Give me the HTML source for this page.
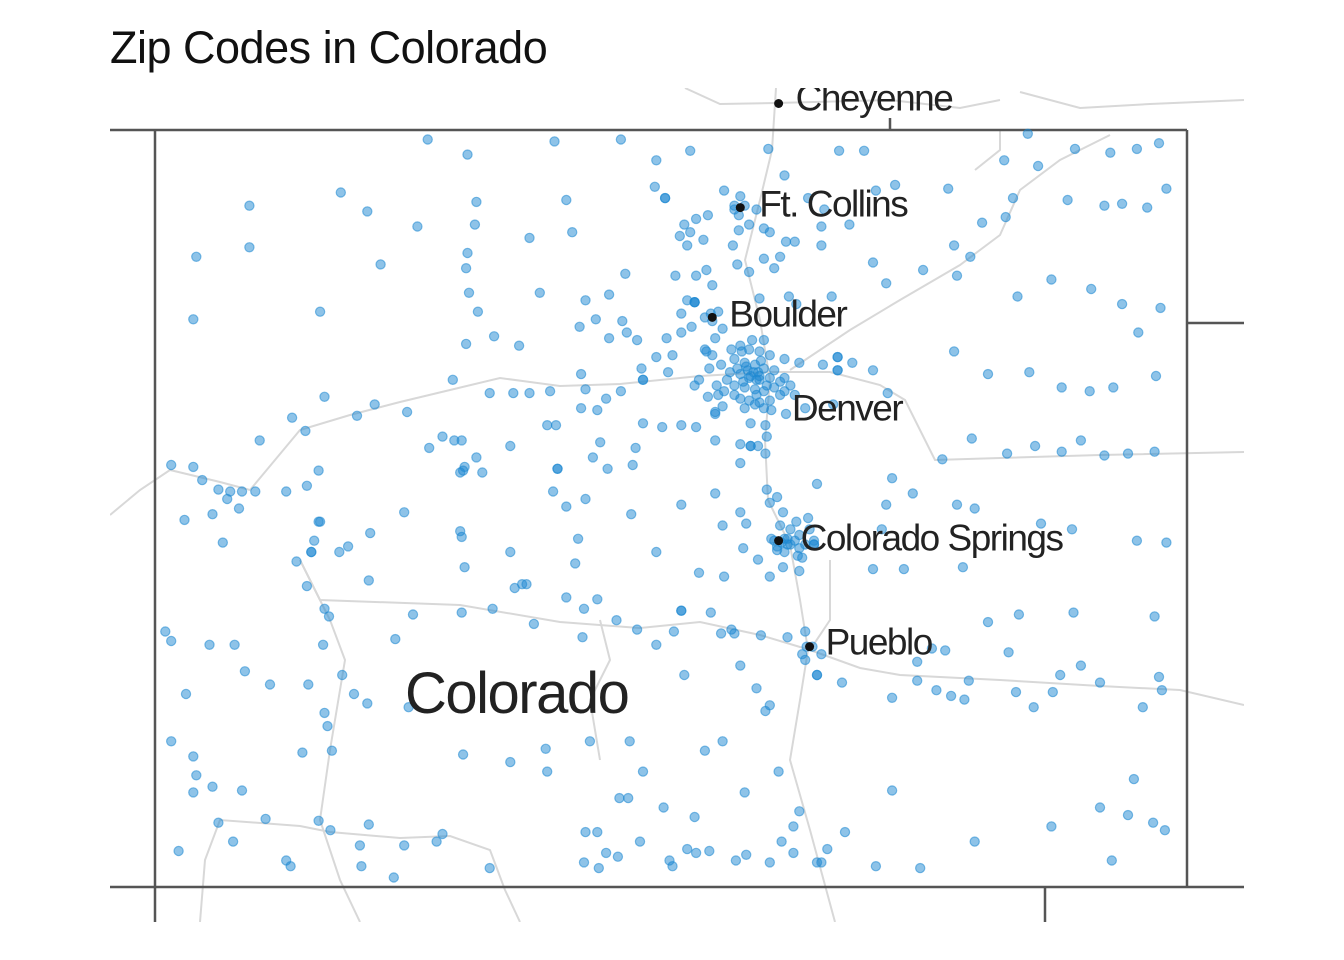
<!DOCTYPE html>
<html><head><meta charset="utf-8"><style>
html,body{margin:0;padding:0;background:#fff;width:1344px;height:960px;overflow:hidden}
#title{position:absolute;left:110px;top:22px;font-family:"Liberation Sans",sans-serif;font-size:45px;color:#111;letter-spacing:-0.5px}
svg{position:absolute;left:0;top:0}
</style></head><body>
<div id="title">Zip Codes in Colorado</div>
<svg id="map" width="1344" height="960">
<defs><clipPath id="clip"><rect x="110" y="88" width="1134" height="834"/></clipPath></defs>
<g id="base" clip-path="url(#clip)"></g>
<g id="pts" clip-path="url(#clip)"></g>
<g id="labels" clip-path="url(#clip)"></g>
</svg>
<script>
// data: zip code centroids [lon, lat]
const zipLon = [-107.20,-106.93,-106.34,-105.89,-105.65,-105.42,-104.89,-104.78,-104.41,-104.24,-103.29,-103.13,-103.06,-102.81,-102.57,-102.39,-102.24,-102.19,-102.32,-102.49,-102.61,-102.86,-103.23,-103.28,-103.44,-103.67,-104.03,-104.16,-104.34,-104.53,-104.51,-104.62,-104.53,-108.41,-107.79,-107.61,-107.27,-106.87,-106.88,-106.26,-106.22,-106.51,-106.93,-106.94,-106.92,-106.44,-106.13,-105.97,-105.86,-105.66,-105.59,-105.19,-105.08,-105.12,-104.97,-104.92,-104.88,-104.77,-104.71,-104.81,-104.92,-104.85,-105.02,-105.10,-105.13,-105.33,-105.42,-105.38,-105.46,-105.30,-105.49,-105.44,-105.31,-105.38,-105.52,-105.27,-105.44,-105.39,-104.95,-104.75,-104.70,-104.46,-104.18,-104.09,-103.84,-103.63,-103.52,-103.61,-103.20,-102.97,-102.70,-102.49,-102.23,-102.38,-108.77,-108.41,-107.52,-108.79,-107.93,-106.94,-106.75,-106.58,-106.86,-106.17,-106.06,-105.88,-105.85,-105.78,-105.97,-105.58,-105.65,-105.54,-105.48,-105.41,-105.48,-105.28,-105.20,-105.25,-105.31,-103.63,-103.40,-103.12,-102.90,-102.71,-102.55,-102.26,-104.32,-104.18,-104.42,-104.52,-104.42,-106.16,-106.13,-105.75,-105.74,-105.57,-105.39,-105.24,-105.30,-105.20,-105.25,-105.38,-105.48,-105.61,-105.74,-105.89,-105.99,-106.05,-106.16,-106.37,-106.51,-106.62,-106.78,-107.03,-107.34,-107.56,-107.68,-107.90,-108.12,-108.03,-108.34,-107.10,-107.02,-106.97,-107.19,-106.39,-106.33,-106.64,-106.03,-105.79,-105.81,-106.08,-105.98,-106.32,-106.95,-106.98,-106.83,-106.87,-107.94,-108.02,-108.16,-108.37,-108.46,-108.54,-108.62,-108.56,-108.73,-108.79,-108.94,-108.66,-108.48,-108.85,-108.59,-107.94,-107.36,-106.35,-106.26,-106.13,-105.82,-105.48,-105.25,-105.08,-105.04,-105.20,-105.08,-104.91,-104.96,-105.08,-105.01,-105.25,-104.90,-104.91,-105.01,-104.77,-104.64,-104.45,-104.08,-104.05,-103.91,-104.09,-104.12,-103.61,-103.49,-103.51,-103.27,-103.08,-102.90,-102.77,-102.61,-102.45,-102.27,-103.71,-103.04,-102.83,-102.39,-102.19,-103.57,-103.97,-104.18,-104.68,-104.88,-104.79,-104.66,-104.58,-104.68,-104.76,-104.83,-104.87,-104.81,-104.70,-104.62,-104.79,-104.88,-104.90,-104.83,-104.56,-107.97,-107.99,-107.80,-107.74,-107.59,-108.09,-108.02,-107.60,-106.98,-106.97,-106.95,-106.64,-106.61,-106.56,-106.53,-106.20,-106.18,-105.65,-105.36,-105.19,-104.96,-105.06,-107.90,-107.87,-107.30,-106.97,-106.76,-106.48,-106.26,-106.14,-106.05,-105.92,-105.78,-105.65,-105.53,-105.48,-105.28,-105.21,-105.14,-105.12,-104.94,-104.64,-104.76,-104.63,-104.66,-104.64,-104.59,-104.53,-104.39,-104.56,-104.91,-104.88,-104.97,-105.08,-105.46,-106.15,-107.42,-107.91,-108.98,-108.94,-108.68,-108.51,-108.44,-108.27,-108.01,-107.78,-107.70,-107.61,-107.33,-107.90,-107.88,-108.84,-108.94,-108.79,-108.77,-108.79,-108.66,-108.46,-108.05,-107.85,-106.96,-106.64,-106.40,-106.39,-106.10,-105.83,-105.74,-105.32,-105.20,-105.05,-104.82,-104.68,-104.72,-104.80,-104.49,-104.53,-104.37,-104.16,-103.86,-103.49,-102.97,-102.64,-102.45,-102.28,-102.20,-102.56,-102.41,-102.35,-102.24,-102.22,-102.64,-102.77,-102.96,-102.91,-103.09,-103.21,-103.53,-103.56,-103.65,-103.75,-103.88,-103.88,-104.05,-103.69,-103.78,-103.40,-103.19,-102.82,-102.27,-103.26,-104.05,-108.62,-108.30,-108.52,-107.94,-107.86,-107.60,-107.66,-107.36,-107.14,-107.10,-107.65,-108.16,-108.13,-107.43,-108.89,-106.78,-106.13,-106.05,-106.14,-106.04,-105.99,-105.91,-105.90,-105.84,-105.76,-105.60,-105.56,-105.54,-105.39,-105.44,-105.38,-105.29,-105.04,-105.11,-104.88,-104.72,-104.56,
-105.08,-105.02,-104.95,-104.88,-105.12,-105.05,-104.98,-104.92,-104.85,-105.15,-105.08,-105.02,-104.95,-104.88,-104.81,-105.12,-105.05,-104.98,-104.92,-104.85,-105.08,-105.02,-104.95,-104.88,-105.05,-104.98,-104.92,-104.78,-104.74,-105.17,-105.19,-105.12,-105.03,-104.96,-104.94,-105.00,-104.92,-105.07,-105.14,-104.78,-104.68,-104.71,-105.27,-105.29,-105.21,-105.32,-105.36,-105.23,-105.06,-104.90,-104.97,-105.10,-104.81,-104.87,-105.01,-104.99,-104.97,-105.04,-104.95,
-105.12,-105.09,-105.05,-105.02,-105.09,-105.39,-105.32,-105.27,-105.23,
-104.85,-104.78,-104.74,-104.71,-104.68,-104.64,-104.61,-104.74,-104.58,-104.83,-104.69,-104.78,-104.80,-104.76,
-105.59,-105.25,-105.01,-106.32,-105.48,-104.42,-104.42,-105.74,-106.96,-107.93,-107.99,-105.39,-104.58,-104.56,-104.78];
const zipLat = [40.95,40.87,40.94,40.95,40.84,40.89,40.90,40.76,40.89,40.89,40.84,40.98,40.81,40.90,40.88,40.90,40.93,40.69,40.59,40.61,40.60,40.63,40.64,40.54,40.51,40.69,40.71,40.68,40.50,40.49,40.58,40.64,40.39,40.60,40.67,40.57,40.49,40.62,40.50,40.63,40.46,40.43,40.35,40.27,40.14,40.14,40.10,40.13,40.24,40.70,40.64,40.68,40.65,40.58,40.58,40.48,40.46,40.41,40.41,40.33,40.32,40.27,40.25,40.29,40.39,40.42,40.46,40.53,40.50,40.55,40.44,40.39,40.26,40.23,40.23,40.18,40.10,40.09,40.11,40.12,40.08,40.12,40.30,40.19,40.26,40.39,40.33,40.23,40.12,40.21,40.16,40.08,40.06,39.93,40.33,40.38,40.29,40.00,40.04,39.87,39.91,39.86,40.04,39.96,40.00,39.99,39.93,39.89,39.90,39.90,39.80,39.81,39.93,39.96,40.03,40.03,39.95,39.90,39.83,39.83,39.71,39.72,39.64,39.62,39.64,39.70,39.77,39.73,39.73,39.76,39.80,39.71,39.63,39.74,39.68,39.72,39.65,39.65,39.59,39.54,39.50,39.43,39.44,39.43,39.45,39.62,39.58,39.52,39.53,39.62,39.61,39.61,39.61,39.68,39.51,39.55,39.49,39.59,39.48,39.41,39.36,39.38,39.36,39.36,39.32,39.44,39.44,39.33,39.35,39.32,39.23,39.27,39.21,39.21,39.22,39.19,39.19,39.27,39.20,39.12,39.09,39.09,39.09,39.09,39.10,39.05,39.15,39.22,39.23,38.97,39.00,38.94,38.82,38.93,38.98,39.09,39.01,39.05,38.97,39.02,39.08,38.98,38.92,38.91,39.24,39.29,39.33,39.34,39.33,39.36,39.38,39.44,39.45,39.50,39.53,39.55,39.61,39.16,39.08,39.02,38.89,39.02,39.00,39.37,39.29,39.33,39.30,39.36,39.28,39.29,39.30,39.26,38.92,38.89,38.83,38.82,38.69,38.68,38.68,38.67,38.64,38.69,38.74,38.83,38.79,38.81,38.80,38.84,38.91,38.93,38.95,38.98,39.03,39.10,39.06,39.13,38.83,38.77,38.77,38.80,38.87,38.72,38.59,38.62,38.88,38.85,38.69,38.77,38.58,38.60,38.60,38.71,38.84,38.77,38.66,38.64,38.73,38.79,38.47,38.43,38.44,38.45,38.47,38.39,38.53,38.47,38.52,38.41,38.36,38.28,38.35,38.46,38.45,38.34,38.36,38.34,38.33,38.35,38.32,38.27,38.23,38.20,38.27,38.23,38.08,38.12,37.93,37.96,38.05,38.17,38.12,38.32,38.31,38.28,38.35,38.30,38.28,38.28,38.14,38.07,38.07,38.12,38.02,37.97,37.95,37.92,37.85,38.02,37.77,37.69,37.59,37.50,37.53,37.51,37.71,37.72,37.70,37.66,37.73,37.61,37.77,37.77,37.61,37.72,37.77,37.50,37.61,37.40,37.32,37.24,37.20,37.13,37.29,37.11,37.10,37.24,37.32,37.42,37.38,37.34,37.30,37.14,37.57,37.95,38.11,38.04,38.08,38.17,38.03,38.12,37.95,38.03,38.09,37.99,38.01,38.04,38.09,38.19,38.00,38.25,38.26,38.40,38.44,38.45,38.43,38.24,37.51,37.34,37.36,37.24,37.35,37.30,37.33,37.22,37.22,37.24,37.28,37.11,37.14,37.11,37.05,37.19,37.10,37.29,37.29,37.13,37.10,37.18,37.16,37.47,37.47,37.24,37.42,37.14,37.11,37.37,37.20,37.18,37.19,37.17,37.14,37.13,37.18,37.13,
39.86,39.84,39.83,39.81,39.79,39.77,39.76,39.74,39.73,39.72,39.71,39.69,39.68,39.69,39.67,39.65,39.64,39.63,39.62,39.64,39.58,39.57,39.56,39.57,39.53,39.55,39.53,39.69,39.65,39.68,39.62,39.60,39.73,39.72,39.78,39.89,39.89,39.83,39.84,39.79,39.77,39.60,39.81,39.74,39.76,39.84,39.68,39.60,39.67,39.65,39.60,39.74,39.60,39.52,39.70,39.72,39.68,39.75,39.70,
40.60,40.55,40.60,40.50,40.47,40.09,40.01,39.99,40.04,
38.83,38.84,38.81,38.83,38.86,38.81,38.89,38.89,38.81,38.78,38.75,38.77,38.82,38.84,
40.64,39.51,39.33,39.21,38.46,39.80,39.73,39.68,39.20,38.93,38.77,40.09,38.81,38.12,39.62];

const cityNames = ["Cheyenne","Ft. Collins","Boulder","Denver","Colorado Springs","Pueblo"];
const cityLon = [-104.82,-105.08,-105.27,-104.73,-104.82,-104.61];
const cityLat = [41.14,40.59,40.01,39.55,38.83,38.27];

const SVGNS = "http://www.w3.org/2000/svg";
const LON0=-109.05, LON1=-102.05, LAT0=37, LAT1=41;
const X0=155, X1=1187, Y0=887, Y1=130;
function xScale(lon){return X0+(lon-LON0)/(LON1-LON0)*(X1-X0);}
function yScale(lat){return Y0-(lat-LAT0)/(LAT1-LAT0)*(Y0-Y1);}

function mk(tag, attrs, parent){const e=document.createElementNS(SVGNS,tag);for(const k in attrs)e.setAttribute(k,attrs[k]);parent.appendChild(e);return e;}

// basemap
const base=document.getElementById('base');
const roads=[
 "M685,88 L720,104 L776,103 L890,100 L960,108 L1000,100",
 "M1020,92 L1080,108 L1150,104 L1244,100",
 "M776,88 L772,150 L760,200 L745,260 L760,320 L770,380 L765,440 L768,500 L790,545 L800,600 L808,650 L800,700 L790,760 L810,830 L835,922",
 "M110,515 L140,490 L170,470 L220,482 L250,490 L275,460 L300,430 L350,415 L400,402 L450,390 L500,378 L560,386 L620,384 L700,376 L770,372 L830,372 L880,385 L905,400 L935,460 L1000,458 L1100,455 L1244,452",
 "M790,370 L850,330 L900,300 L960,265 L1000,235 L1020,190 L1060,160 L1110,135",
 "M300,560 L320,600 L460,605 L560,622 L640,628 L700,622 L760,635 L810,650 L860,668 L900,675 L1000,680 L1100,686 L1180,690 L1244,705",
 "M300,560 L330,620 L345,660 L330,750 L320,820 L340,880 L360,922",
 "M200,922 L205,860 L220,820 L300,826 L330,832 L400,838 L450,836 L490,850 L505,890 L520,922",
 "M1000,130 L1000,150 L975,170",
 "M830,560 L830,620 L810,650",
 "M600,620 L610,660 L590,700 L600,760"
];
roads.forEach((d,i)=>{
 const p=mk('path',{d:d,fill:'none',stroke:'#d8d8d8','stroke-width':2},base);
 
 
});
const borders=[
 "M110,130 L1187,130","M155,130 L155,922","M1187,130 L1187,887","M110,887 L1244,887",
 "M1187,323 L1244,323","M1045,887 L1045,922","M890,118 L890,130"
];
borders.forEach(d=>{
 const p=mk('path',{d:d,fill:'none',stroke:'#555','stroke-width':2.5},base);
 
 
});

// points
const pts=document.getElementById('pts');
for(let i=0;i<zipLon.length;i++){
 const c=mk('circle',{cx:xScale(zipLon[i]).toFixed(1),cy:yScale(zipLat[i]).toFixed(1),r:4.6,fill:'rgba(30,136,210,0.5)',stroke:'rgba(30,136,210,0.55)','stroke-width':1.2},pts);
 
 
}

// city labels
const labs=document.getElementById('labels');
const dxs=[17,19,17,0,22,16], dys=[7,9,9,16,10,8];
for(let i=0;i<cityNames.length;i++){
 const x=xScale(cityLon[i]), y=yScale(cityLat[i]);
 if(i!==3){
  const d=mk('circle',{cx:x,cy:y,r:4.5,fill:'#111'},labs);
  
  
 }
 const t=mk('text',{x:x+dxs[i],y:y+dys[i],'font-family':'Liberation Sans, sans-serif','font-size':37,fill:'#222','letter-spacing':'-1.5'},labs);
 t.textContent=cityNames[i];
 
 
}
const st=mk('text',{x:405,y:713,'font-family':'Liberation Sans, sans-serif','font-size':58,fill:'#222','letter-spacing':'-1.5'},labs);
st.textContent="Colorado";


</script>
</body></html>
